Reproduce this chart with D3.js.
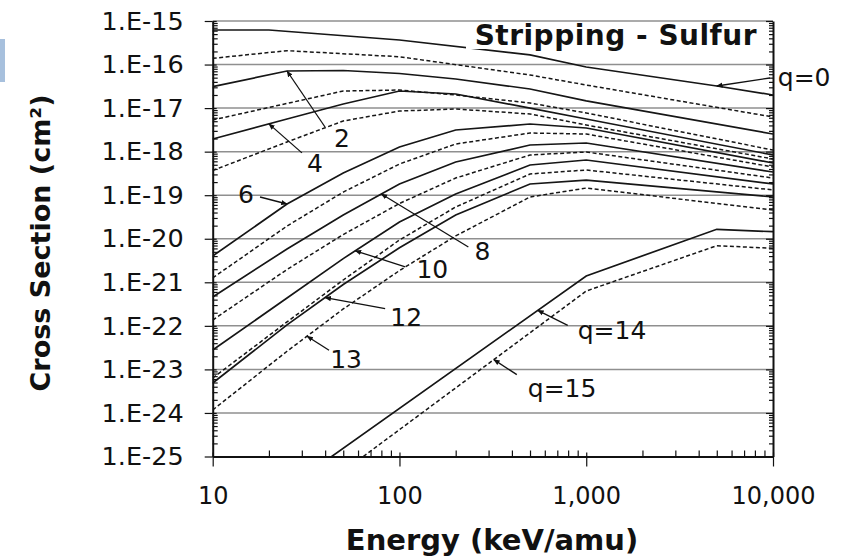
<!DOCTYPE html>
<html>
<head>
<meta charset="utf-8" />
<title>Stripping - Sulfur</title>
<style>
  body { margin: 0; background: #fff; }
  svg text { font-family: "DejaVu Sans", Verdana, sans-serif; fill: #111; }
  .axis .domain { stroke: #111; stroke-width: 2; }
  .axis line { stroke: #111; stroke-width: 1.2; }
  .grid line { stroke: #8f8f8f; stroke-width: 1.5; }
</style>
</head>
<body>
<svg id="chart" width="845" height="560"></svg>
<script src="https://d3js.org/d3.v7.min.js"></script>
<script>
// energies in keV/amu, cross sections in cm^2
const energyMain = [10, 25, 50, 100, 200, 500, 1000, 10000];
const energyQ0 = [10, 20, 100, 500, 1000, 5000, 10000];
const energyQ1 = [10, 25, 100, 500, 1000, 10000];
const energyQ14 = [40, 1000, 5000, 10000];
const energyQ15 = [60, 1000, 5000, 10000];

const q0 = [6.21e-16, 6.21e-16, 3.66e-16, 1.66e-16, 8.78e-17, 3.22e-17, 2.0e-17];
const q1 = [1.39e-16, 2.08e-16, 1.51e-16, 5.75e-17, 3.39e-17, 6.25e-18];
const q2 = [3.10e-17, 7.11e-17, 7.30e-17, 6.23e-17, 4.66e-17, 2.75e-17, 1.46e-17, 2.54e-18];
const q3 = [5.33e-18, 1.28e-17, 2.47e-17, 2.60e-17, 2.00e-17, 1.31e-17, 7.72e-18, 1.09e-18];
const q4 = [1.95e-18, 5.62e-18, 1.24e-17, 2.47e-17, 2.11e-17, 1.00e-17, 5.62e-18, 8.38e-19];
const q5 = [3.69e-19, 1.67e-18, 5.06e-18, 8.57e-18, 9.53e-18, 7.32e-18, 4.09e-18, 6.78e-19];
const q6 = [4.02e-21, 6.28e-20, 3.24e-19, 1.28e-18, 3.14e-18, 4.31e-18, 3.49e-18, 5.48e-19];
const q7 = [1.26e-21, 1.96e-20, 1.18e-19, 5.20e-19, 1.50e-18, 2.68e-18, 2.54e-18, 4.44e-19];
const q8 = [4.59e-22, 5.82e-21, 3.51e-20, 1.81e-19, 5.78e-19, 1.42e-18, 1.58e-18, 3.41e-19];
const q9 = [1.36e-22, 1.97e-21, 1.25e-20, 6.45e-20, 2.48e-19, 8.38e-19, 9.82e-19, 2.48e-19];
const q10 = [2.79e-23, 4.36e-22, 3.50e-21, 2.42e-20, 1.07e-19, 4.93e-19, 6.43e-19, 1.81e-19];
const q11 = [6.34e-24, 1.23e-22, 1.13e-21, 9.36e-21, 5.36e-20, 3.07e-19, 3.79e-19, 1.32e-19];
const q12 = [4.87e-24, 1.05e-22, 8.90e-22, 6.20e-21, 3.51e-20, 1.81e-19, 2.23e-19, 9.10e-20];
const q13 = [1.17e-24, 2.61e-23, 2.44e-22, 1.86e-21, 1.16e-20, 9.10e-20, 1.46e-19, 4.57e-20];
const q14 = [7.84e-26, 1.40e-21, 1.65e-20, 1.45e-20];
const q15 = [8.14e-26, 6.31e-22, 6.92e-21, 6.04e-21];

const yTicks = [1e-25, 1e-24, 1e-23, 1e-22, 1e-21, 1e-20, 1e-19, 1e-18, 1e-17, 1e-16, 1e-15];
const yTickLabels = ["1.E-25", "1.E-24", "1.E-23", "1.E-22", "1.E-21", "1.E-20",
                     "1.E-19", "1.E-18", "1.E-17", "1.E-16", "1.E-15"];
const xTicks = [10, 100, 1000, 10000];
const xTickLabels = ["10", "100", "1,000", "10,000"];

// q, energies, values; even q solid, odd q dashed
const series = [
  [0, energyQ0, q0], [1, energyQ1, q1], [2, energyMain, q2], [3, energyMain, q3],
  [4, energyMain, q4], [5, energyMain, q5], [6, energyMain, q6], [7, energyMain, q7],
  [8, energyMain, q8], [9, energyMain, q9], [10, energyMain, q10], [11, energyMain, q11],
  [12, energyMain, q12], [13, energyMain, q13], [14, energyQ14, q14], [15, energyQ15, q15]
].map(([q, e, v]) => ({ q, pts: e.map((d, i) => [d, v[i]]) }));

// labels: which curve, energy of arrow tip, pixel offsets of tail and text
const notes = [
  { text: "q=0", q: 0, e: 5000, tail: [53, -8], pos: [61, -8], anchor: "start" },
  { text: "2", q: 2, e: 25, tail: [38, 56], pos: [55, 67], anchor: "middle" },
  { text: "4", q: 4, e: 20, tail: [33, 29], pos: [46, 40], anchor: "middle" },
  { text: "6", q: 6, e: 25, tail: [-27, -7], pos: [-41, -9], anchor: "middle" },
  { text: "8", q: 8, e: 80, tail: [87, 53], pos: [101, 58], anchor: "middle" },
  { text: "10", q: 10, e: 58, tail: [50, 16], pos: [77, 19], anchor: "middle" },
  { text: "12", q: 12, e: 40, tail: [60, 11], pos: [81, 20], anchor: "middle" },
  { text: "13", q: 13, e: 32, tail: [22, 14], pos: [39, 23], anchor: "middle" },
  { text: "q=14", q: 14, e: 550, tail: [30, 15], pos: [40, 20], anchor: "start" },
  { text: "q=15", q: 15, e: 320, tail: [23, 15], pos: [34, 29], anchor: "start" }
];

const svg = d3.select("#chart");
const x0 = 212.7, x1 = 773, yTop = 21, yBot = 456.5;

const x = d3.scaleLog().domain([10, 10000]).range([x0, x1]);
const y = d3.scaleLog().domain([1e-25, 1e-15]).range([yBot, yTop]);

const minors = (lo, hi) => {
  const out = [];
  for (let p = lo; p < hi; p++) for (let m = 2; m <= 9; m++) out.push(m * Math.pow(10, p));
  return out;
};
const yMinor = minors(-25, -15);
const xMinor = minors(1, 4);

// slide decoration on the left edge
svg.append("rect").attr("x", 0).attr("y", 39).attr("width", 5).attr("height", 43).attr("fill", "#a7c0dd");

// gridlines
svg.append("g").attr("class", "grid")
  .selectAll("line").data(yTicks.slice(1)).join("line")
  .attr("x1", x0).attr("x2", x1)
  .attr("y1", d => y(d)).attr("y2", d => y(d));

// curves
svg.append("defs").append("clipPath").attr("id", "plot")
  .append("rect").attr("x", x0).attr("y", yTop).attr("width", x1 - x0).attr("height", yBot - yTop);

const line = d3.line().x(d => x(d[0])).y(d => y(d[1]));
svg.append("g").attr("clip-path", "url(#plot)")
  .selectAll("path").data(series).join("path")
  .attr("d", d => line(d.pts))
  .attr("fill", "none")
  .attr("stroke", "#161616")
  .attr("stroke-width", d => d.q % 2 ? 1.5 : 1.7)
  .attr("stroke-dasharray", d => d.q % 2 ? "4,2.5" : null);

// title box
svg.append("rect").attr("x", 466).attr("y", 23).attr("width", 304).attr("height", 26).attr("fill", "#fff");
svg.append("text").attr("x", 757).attr("y", 45).attr("text-anchor", "end")
  .attr("font-size", 28).attr("font-weight", "bold").attr("letter-spacing", 0.5)
  .text("Stripping - Sulfur");

// left axis
svg.append("g").attr("class", "axis").attr("transform", `translate(${x0},0)`)
  .call(d3.axisLeft(y).tickValues(yTicks).tickSizeInner(8).tickSizeOuter(0).tickPadding(21)
    .tickFormat((d, i) => yTickLabels[i]))
  .call(g => g.selectAll("text").attr("font-size", 25.5).style("font-family", "DejaVu Sans, Verdana, sans-serif").attr("fill", "#111"));
svg.append("g").attr("class", "axis").attr("transform", `translate(${x0},0)`)
  .call(d3.axisRight(y).tickValues(yTicks).tickSize(4).tickFormat(""))
  .call(g => g.select(".domain").remove());
svg.append("g").attr("class", "axis").attr("transform", `translate(${x0},0)`)
  .call(d3.axisRight(y).tickValues(yMinor).tickSize(5).tickFormat(""))
  .call(g => g.select(".domain").remove());

// right axis
svg.append("g").attr("class", "axis").attr("transform", `translate(${x1},0)`)
  .call(d3.axisLeft(y).tickValues(yTicks).tickSizeInner(7).tickSizeOuter(0).tickFormat(""));
svg.append("g").attr("class", "axis").attr("transform", `translate(${x1},0)`)
  .call(d3.axisLeft(y).tickValues(yMinor).tickSize(4).tickFormat(""))
  .call(g => g.select(".domain").remove());

// bottom axis
svg.append("g").attr("class", "axis").attr("transform", `translate(0,${yBot})`)
  .call(d3.axisBottom(x).tickValues(xTicks).tickSizeInner(10).tickSizeOuter(0).tickPadding(20)
    .tickFormat((d, i) => xTickLabels[i]))
  .call(g => g.select(".domain").attr("stroke-width", 1.6))
  .call(g => g.selectAll("text").attr("font-size", 24).style("font-family", "DejaVu Sans, Verdana, sans-serif").attr("fill", "#111"));
svg.append("g").attr("class", "axis").attr("transform", `translate(0,${yBot})`)
  .call(d3.axisTop(x).tickValues(xMinor).tickSize(6).tickFormat(""))
  .call(g => g.select(".domain").remove());
svg.append("g").attr("class", "axis").attr("transform", `translate(0,${yBot})`)
  .call(d3.axisTop(x).tickValues(xTicks).tickSize(4).tickFormat(""))
  .call(g => g.select(".domain").remove());

// axis titles
svg.append("text").attr("transform", "translate(40,243) rotate(-90)")
  .attr("text-anchor", "middle").attr("dominant-baseline", "central")
  .attr("font-size", 27).attr("font-weight", "bold")
  .text("Cross Section (cm²)");
svg.append("text").attr("x", 492).attr("y", 550).attr("text-anchor", "middle")
  .attr("font-size", 29).attr("font-weight", "bold")
  .text("Energy (keV/amu)");

// arrows and curve labels
svg.select("defs").append("marker").attr("id", "head")
  .attr("viewBox", "0 0 10 10").attr("refX", 9).attr("refY", 5)
  .attr("markerWidth", 5).attr("markerHeight", 5).attr("orient", "auto")
  .append("path").attr("d", "M0,1L10,5L0,9z").attr("fill", "#111");

const valueAt = (pts, e) => {
  const le = Math.log10(e);
  for (let i = 0; i < pts.length - 1; i++) {
    const a = Math.log10(pts[i][0]), b = Math.log10(pts[i + 1][0]);
    if (le >= a && le <= b) {
      const t = (le - a) / (b - a);
      return Math.pow(10, Math.log10(pts[i][1]) + t * (Math.log10(pts[i + 1][1]) - Math.log10(pts[i][1])));
    }
  }
  return pts[pts.length - 1][1];
};

const ann = svg.append("g");
notes.forEach(n => {
  const s = series.find(d => d.q === n.q);
  const tx = x(n.e), ty = y(valueAt(s.pts, n.e));
  ann.append("line")
    .attr("x1", tx + n.tail[0]).attr("y1", ty + n.tail[1])
    .attr("x2", tx).attr("y2", ty)
    .attr("stroke", "#111").attr("stroke-width", 1.3)
    .attr("marker-end", "url(#head)");
  ann.append("text")
    .attr("x", tx + n.pos[0]).attr("y", ty + n.pos[1])
    .attr("text-anchor", n.anchor).attr("dominant-baseline", "central")
    .attr("font-size", 25).text(n.text);
});
</script>
</body>
</html>
